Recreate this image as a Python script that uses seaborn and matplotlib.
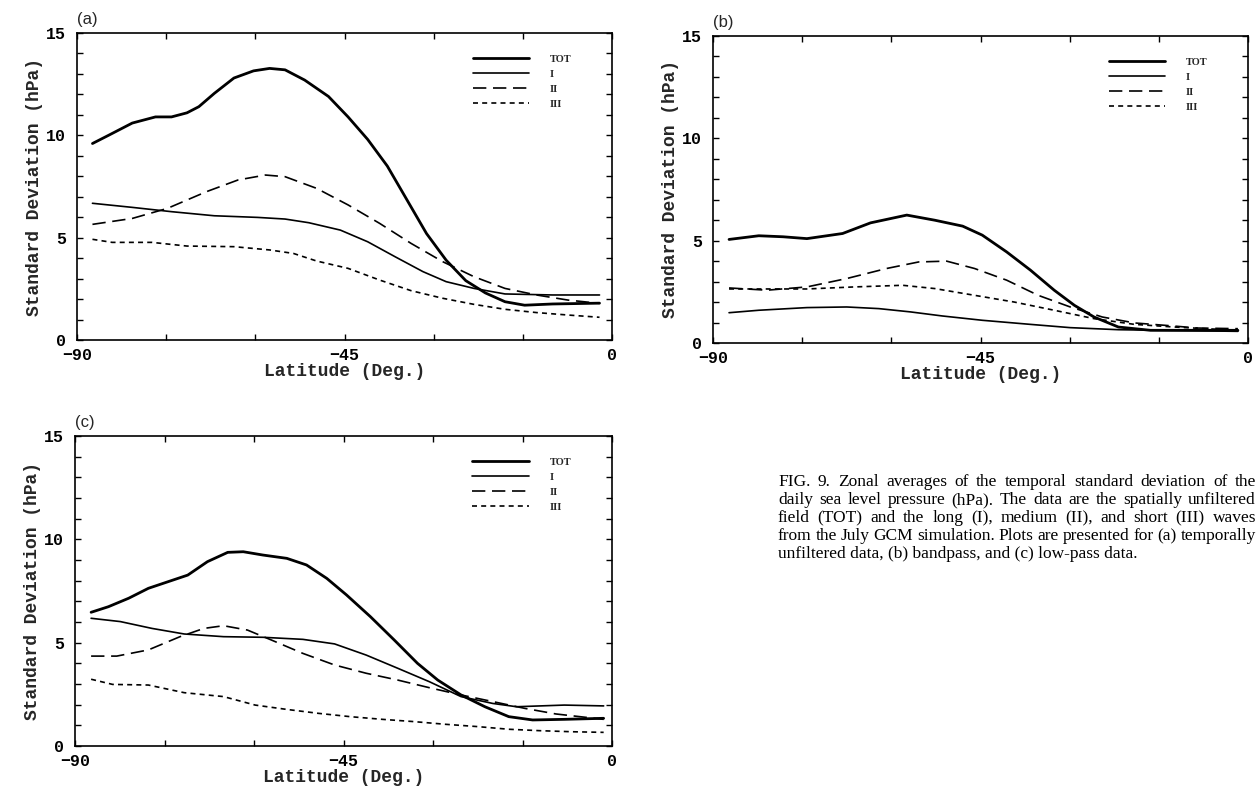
import matplotlib
matplotlib.use("Agg")
import matplotlib.pyplot as plt
import seaborn as sns

# ---- data ----------------------------------------------------------------
WAVES = ["TOT", "I", "II", "III"]

A_TOT_LAT = [-87.4, -84.7, -80.7, -76.8, -74.1, -71.5, -69.5, -66.9, -63.6, -60.3,
             -57.6, -55.0, -51.7, -47.7, -44.4, -41.1, -37.8, -34.5, -31.2, -27.9,
             -24.6, -21.3, -18.0, -14.7, -10.0, -2.1]
A_TOT = [9.6, 10.0, 10.6, 10.9, 10.9, 11.1, 11.4, 12.05, 12.8, 13.15,
         13.27, 13.2, 12.7, 11.9, 10.9, 9.8, 8.5, 6.85, 5.2, 3.9,
         2.9, 2.3, 1.87, 1.7, 1.76, 1.8]
A_I_LAT = [-87.4, -80.7, -74.1, -66.9, -59.6, -55.0, -51.0, -45.7, -41.1, -36.5,
           -31.8, -27.9, -23.2, -18.0, -10.0, -2.1]
A_I = [6.68, 6.48, 6.27, 6.07, 5.99, 5.91, 5.73, 5.37, 4.8, 4.07,
       3.34, 2.85, 2.52, 2.25, 2.2, 2.2]
A_II_LAT = [-87.4, -80.7, -74.8, -68.2, -62.9, -58.3, -55.0, -49.7, -44.4, -39.1,
            -33.8, -28.5, -23.2, -18.0, -12.7, -7.4, -2.1]
A_II = [5.65, 5.94, 6.43, 7.25, 7.82, 8.06, 7.98, 7.41, 6.6, 5.7,
        4.72, 3.83, 3.09, 2.52, 2.2, 1.95, 1.79]
A_III_LAT = [-87.4, -84.1, -77.4, -71.5, -63.6, -57.6, -53.6, -49.7, -44.4, -39.1,
             -33.8, -28.5, -23.2, -18.0, -12.7, -7.4, -2.1]
A_III = [4.92, 4.77, 4.77, 4.59, 4.56, 4.4, 4.23, 3.86, 3.5, 2.93,
         2.41, 2.04, 1.74, 1.5, 1.34, 1.22, 1.11]

B_TOT_LAT = [-87.3, -82.3, -78.2, -74.2, -68.2, -63.5, -57.4, -52.7, -48.0, -44.7,
             -40.6, -36.6, -32.6, -29.2, -25.9, -21.8, -16.4, -1.7]
B_TOT = [5.06, 5.24, 5.19, 5.1, 5.35, 5.87, 6.25, 6.0, 5.71, 5.27,
         4.45, 3.56, 2.58, 1.84, 1.27, 0.78, 0.62, 0.62]
B_I_LAT = [-87.3, -82.3, -74.2, -67.5, -62.1, -56.8, -51.4, -44.7, -36.6, -29.9,
           -21.8, -15.1, -1.7]
B_I = [1.48, 1.6, 1.73, 1.76, 1.68, 1.52, 1.32, 1.11, 0.91, 0.75,
       0.65, 0.62, 0.57]
B_II_LAT = [-87.3, -80.9, -74.2, -67.5, -60.8, -55.4, -50.7, -46.0, -40.6, -35.3,
            -29.9, -24.5, -19.1, -13.8, -8.4, -1.7]
B_II = [2.69, 2.58, 2.74, 3.15, 3.64, 3.96, 4.0, 3.64, 3.07, 2.33,
        1.76, 1.27, 0.98, 0.86, 0.73, 0.7]
B_III_LAT = [-87.3, -80.9, -74.2, -66.2, -58.1, -52.7, -46.0, -39.3, -32.6, -25.9,
             -19.1, -12.4, -7.1, -1.7]
B_III = [2.64, 2.64, 2.64, 2.74, 2.82, 2.66, 2.33, 2.0, 1.6, 1.19,
         0.91, 0.78, 0.7, 0.62]

C_TOT_LAT = [-87.3, -84.4, -81.0, -77.7, -74.4, -71.1, -67.8, -64.4, -61.8, -58.5,
             -54.5, -51.2, -47.8, -44.5, -40.5, -36.5, -32.6, -29.2, -25.3, -21.3,
             -17.3, -13.3, -8.0, -1.4]
C_TOT = [6.47, 6.74, 7.15, 7.63, 7.95, 8.27, 8.92, 9.37, 9.4, 9.24,
         9.08, 8.76, 8.11, 7.31, 6.26, 5.13, 4.0, 3.19, 2.47, 1.9,
         1.42, 1.26, 1.29, 1.34]
C_I_LAT = [-87.3, -82.4, -77.1, -71.7, -65.1, -58.5, -51.8, -46.5, -41.2, -35.9,
           -30.6, -25.3, -20.0, -16.0, -8.0, -1.4]
C_I = [6.18, 6.02, 5.69, 5.42, 5.29, 5.26, 5.16, 4.94, 4.4, 3.76,
       3.11, 2.39, 2.06, 1.9, 1.98, 1.94]
C_II_LAT = [-87.3, -83.0, -77.7, -72.4, -68.4, -65.1, -61.1, -57.1, -51.8, -46.5,
            -41.2, -35.9, -30.6, -25.3, -20.0, -14.6, -9.4, -1.4]
C_II = [4.35, 4.35, 4.65, 5.29, 5.69, 5.82, 5.61, 5.13, 4.48, 3.92,
        3.52, 3.19, 2.82, 2.47, 2.15, 1.82, 1.55, 1.29]
C_III_LAT = [-87.3, -83.7, -77.7, -71.7, -65.1, -59.8, -54.5, -49.2, -43.9, -38.5,
             -33.2, -27.9, -22.6, -17.3, -12.0, -6.7, -1.4]
C_III = [3.23, 2.98, 2.95, 2.58, 2.39, 1.98, 1.77, 1.58, 1.42, 1.29,
         1.18, 1.05, 0.94, 0.81, 0.74, 0.69, 0.66]

X_TICKS = [-90, -45, 0]
Y_TICKS = [0, 5, 10, 15]

CAPTION = [
    "FIG. 9. Zonal averages of the temporal standard deviation of the",
    "daily sea level pressure (hPa). The data are the spatially unfiltered",
    "field (TOT) and the long (I), medium (II), and short (III) waves",
    "from the July GCM simulation. Plots are presented for (a) temporally",
    "unfiltered data, (b) bandpass, and (c) low-pass data.",
]

PANELS = {
    "(a)": [(A_TOT_LAT, A_TOT), (A_I_LAT, A_I), (A_II_LAT, A_II), (A_III_LAT, A_III)],
    "(b)": [(B_TOT_LAT, B_TOT), (B_I_LAT, B_I), (B_II_LAT, B_II), (B_III_LAT, B_III)],
    "(c)": [(C_TOT_LAT, C_TOT), (C_I_LAT, C_I), (C_II_LAT, C_II), (C_III_LAT, C_III)],
}

# ---- styling -------------------------------------------------------------
LINE_STYLE = {
    "TOT": dict(lw=2.0, ls="-"),
    "I": dict(lw=1.2, ls="-"),
    "II": dict(lw=1.2, ls=(0, (8, 4))),
    "III": dict(lw=1.2, ls=(0, (3, 2.5))),
}
# axes rectangles in pixels: left, top, right, bottom
BOXES = {
    "(a)": (77, 33, 612, 340),
    "(b)": (713, 36, 1248, 343),
    "(c)": (75, 436, 612, 746),
}
W, H = 1258, 788
MONO = "Liberation Mono"

sns.set_style("ticks")
plt.rcParams["font.family"] = ["DejaVu Sans"]

fig = plt.figure(figsize=(W / 100, H / 100), dpi=100)

for name, series in PANELS.items():
    l, t, r, b = BOXES[name]
    ax = fig.add_axes([l / W, 1 - b / H, (r - l) / W, (b - t) / H])
    for wave, (lat, sd) in zip(WAVES, series):
        sns.lineplot(x=lat, y=sd, ax=ax, color="black", label=wave,
                     linewidth=LINE_STYLE[wave]["lw"],
                     linestyle=LINE_STYLE[wave]["ls"], sort=False,
                     estimator=None)

    ax.set_xlim(-90, 0)
    ax.set_ylim(0, 15)
    ax.set_xticks(X_TICKS)
    ax.set_xticks(range(-90, 1, 15), minor=True)
    ax.set_yticks(Y_TICKS)
    ax.set_yticks(range(0, 16), minor=True)
    ax.set_xticklabels(["\u221290", "\u221245", "0"])
    ax.tick_params(which="both", direction="in", top=True, right=True,
                   length=4, width=1, colors="black")
    ax.tick_params(axis="x", pad=6)
    ax.tick_params(axis="y", pad=8)
    for lab in ax.get_xticklabels() + ax.get_yticklabels():
        lab.set_fontfamily(MONO)
        lab.set_fontweight("bold")
        lab.set_fontsize(12)
    for sp in ax.spines.values():
        sp.set_visible(True)
        sp.set_linewidth(1.2)
        sp.set_color("black")

    ax.set_xlabel("Latitude (Deg.)", fontfamily=MONO, fontweight="bold",
                  fontsize=13, labelpad=0)
    ax.set_ylabel("Standard Deviation (hPa)", fontfamily=MONO,
                  fontweight="bold", fontsize=13, labelpad=2)
    ax.text(0.0, 1.02, name, transform=ax.transAxes, ha="left", va="bottom",
            fontfamily="Liberation Sans", fontsize=12)

    ax.legend(loc="upper left", bbox_to_anchor=(0.74, 0.93),
              frameon=False, handlelength=5.4, handletextpad=2.0,
              labelspacing=0.55, borderpad=0, borderaxespad=0,
              prop={"family": "Liberation Serif", "weight": "bold",
                    "size": 7.5})

# ---- caption, justified --------------------------------------------------
renderer = fig.canvas.get_renderer()
x0, x1 = 778, 1256
y_first = 482
line_gap = 18
cap_kw = dict(fontfamily="Liberation Serif", fontsize=12.5, va="center",
              ha="left", color="black")
for i, text in enumerate(CAPTION):
    y = 1 - (y_first + i * line_gap) / H
    words = text.split(" ")
    if i == len(CAPTION) - 1:
        fig.text(x0 / W, y, text, **cap_kw)
        continue
    items = [fig.text(0, y, w, **cap_kw) for w in words]
    widths = [it.get_window_extent(renderer).width for it in items]
    gap = (x1 - x0 - sum(widths)) / (len(words) - 1)
    x = x0
    for it, wd in zip(items, widths):
        it.set_x(x / W)
        x += wd + gap

fig.savefig("out.png", dpi=100)
